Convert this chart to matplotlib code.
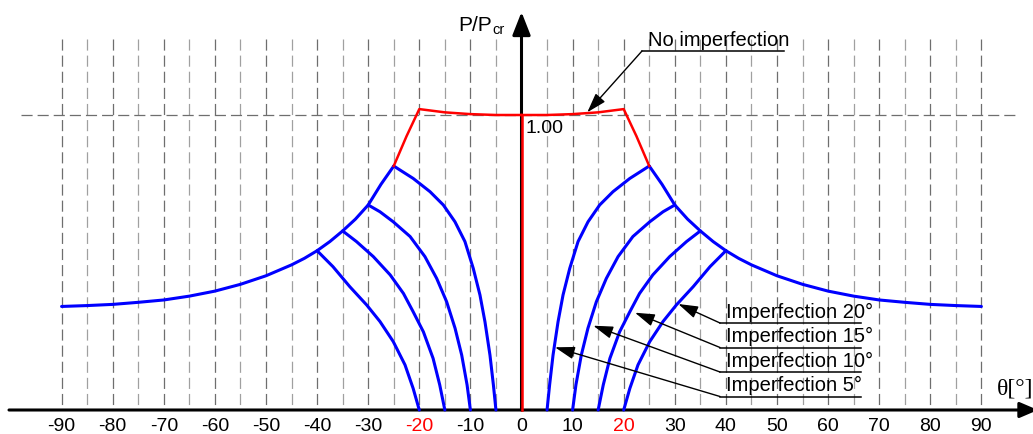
import matplotlib
matplotlib.use('Agg')
import matplotlib.pyplot as plt
import numpy as np

plt.rcParams['font.family'] = ['Liberation Sans', 'DejaVu Sans']
plt.rcParams['lines.scale_dashes'] = False

# ---------------- data (right half; the chart is mirrored about theta = 0) ----------------
tick_values = [-90, -80, -70, -60, -50, -40, -30, -20, -10, 0, 10, 20, 30, 40, 50, 60, 70, 80, 90]
red_ticks = [-20, 20]

# post-buckling envelope
env_theta = [25, 27.5, 30, 32.5, 35, 37.5, 40, 42.5, 45, 50, 55, 60, 65, 70, 75, 80, 85, 90]
env_P = [0.827, 0.765, 0.695, 0.647, 0.607, 0.571, 0.540, 0.514, 0.492, 0.455, 0.426,
         0.403, 0.386, 0.373, 0.365, 0.358, 0.354, 0.351]

# no imperfection: top branch
red_theta = [0, 5, 10, 15, 20, 22.5, 25]
red_P = [1.000, 1.000, 1.003, 1.009, 1.020, 0.928, 0.827]
# no imperfection: trivial branch
trivial_theta = [0, 0]
trivial_P = [0.0, 1.0]

# imperfection curves
imp5_theta = [5.0, 5.5, 6.17, 7.15, 8.13, 9.44, 11.07, 13.02, 15.3, 17.9, 21.2, 25.0]
imp5_P = [0.0, 0.085, 0.186, 0.299, 0.390, 0.480, 0.571, 0.638, 0.695, 0.740, 0.785, 0.827]
imp10_theta = [10.0, 10.65, 11.7, 13.0, 14.65, 16.6, 18.9, 21.8, 25.1, 27.7, 30.0]
imp10_P = [0.0, 0.085, 0.186, 0.277, 0.367, 0.446, 0.520, 0.588, 0.638, 0.672, 0.695]
imp15_theta = [15.0, 16.0, 17.3, 19.2, 21.2, 23.1, 25.7, 29.0, 32.3, 35.0]
imp15_P = [0.0, 0.085, 0.175, 0.265, 0.333, 0.395, 0.458, 0.520, 0.571, 0.607]
imp20_theta = [20.0, 21.2, 22.8, 25.1, 27.7, 30.3, 33.6, 36.9, 40.0]
imp20_P = [0.0, 0.073, 0.153, 0.232, 0.300, 0.356, 0.418, 0.486, 0.540]

imp_labels = ['Imperfection 20°', 'Imperfection 15°', 'Imperfection 10°', 'Imperfection 5°']

# ---------------- figure ----------------
W, H = 1033, 434
fig = plt.figure(figsize=(W / 100, H / 100), dpi=100)
ax = fig.add_axes([0, 0, 1, 1])
X0, SX, Y0, SY = 521.5, 5.11, 410.0, 295.0


def px(x):
    return (x - X0) / SX


def py(y):
    return (Y0 - y) / SY


ax.set_xlim(px(0), px(W))
ax.set_ylim(py(H), py(0))
ax.axis('off')

# grid
for t in range(-90, 95, 5):
    if t == 0:
        continue
    col = '#6e6e6e' if t % 10 == 0 else '#a0a0a0'
    ax.plot([t, t], [py(39), 0], color=col, lw=0.9, dashes=(8, 3.6), zorder=1)
ax.plot([px(21), px(1017)], [1.0, 1.0], color='#6e6e6e', lw=0.9, dashes=(8, 3.6), zorder=1)

# axes arrows
ax.annotate('', xy=(px(1038), 0), xytext=(px(9), 0), annotation_clip=False,
            arrowprops=dict(arrowstyle='-|>,head_length=1.1,head_width=0.47', mutation_scale=10,
                            color='black', lw=2.2, shrinkA=0, shrinkB=0), zorder=3)
ax.annotate('', xy=(0, py(12)), xytext=(0, 0), annotation_clip=False,
            arrowprops=dict(arrowstyle='-|>,head_length=1.4,head_width=0.55', mutation_scale=10,
                            color='black', lw=2.2, shrinkA=0, shrinkB=0), zorder=3)

# curves
blue = '#0000ff'
red = '#ff0000'
for s in (-1, 1):
    ax.plot(s * np.array(env_theta), env_P, color=blue, lw=2.2, zorder=4,
            solid_capstyle='round', solid_joinstyle='round')
    for th, p in ((imp5_theta, imp5_P), (imp10_theta, imp10_P),
                  (imp15_theta, imp15_P), (imp20_theta, imp20_P)):
        ax.plot(s * np.array(th), p, color=blue, lw=2.2, zorder=4,
                solid_capstyle='round', solid_joinstyle='round')
    ax.plot(s * np.array(red_theta), red_P, color=red, lw=1.8, zorder=5, solid_joinstyle='round')
ax.plot(trivial_theta, trivial_P, color=red, lw=1.8, zorder=5)

# tick labels
for v in tick_values:
    ax.text(v, py(431), str(v), ha='center', va='baseline', fontsize=14,
            color=red if v in red_ticks else 'black', zorder=6)
ax.text(px(525.5), py(133), '1.00', ha='left', va='baseline', fontsize=14, zorder=6)

# axis labels
ax.text(px(491.5), py(30.7), 'P/P', ha='right', va='baseline', fontsize=15, zorder=6)
ax.text(px(492.5), py(34), 'cr', ha='left', va='baseline', fontsize=10.5, zorder=6)
ax.text(px(997), py(395), 'θ[°]', ha='left', va='baseline', fontsize=17,
        family=['Liberation Serif', 'DejaVu Serif'], zorder=6)

# annotation: no imperfection
ax.text(px(648), py(45.7), 'No imperfection', ha='left', va='baseline', fontsize=14.5, zorder=6)
ax.plot([px(642), px(784)], [py(51), py(51)], color='black', lw=1.1, zorder=6)
ax.annotate('', xy=(px(587.3), py(112.3)), xytext=(px(642), py(51)),
            arrowprops=dict(arrowstyle='-|>,head_length=1.2,head_width=0.38', mutation_scale=10,
                            color='black', lw=1.0, shrinkA=0, shrinkB=0), zorder=6)

# annotation: imperfections
under_y = [323, 347.5, 372, 396.5]
tips = [(678.3, 304), (635, 312.7), (593.3, 325.7), (555, 347.3)]
for lab, uy, (tx, ty) in zip(imp_labels, under_y, tips):
    ax.text(px(725.7), py(uy - 5.3), lab, ha='left', va='baseline', fontsize=14.5, zorder=6)
    ax.plot([px(720), px(861)], [py(uy), py(uy)], color='black', lw=1.1, zorder=6)
    ax.annotate('', xy=(px(tx), py(ty)), xytext=(px(720), py(uy)),
                arrowprops=dict(arrowstyle='-|>,head_length=1.2,head_width=0.38', mutation_scale=10,
                                color='black', lw=1.0, shrinkA=0, shrinkB=0), zorder=6)

fig.savefig('out.png', dpi=100)
